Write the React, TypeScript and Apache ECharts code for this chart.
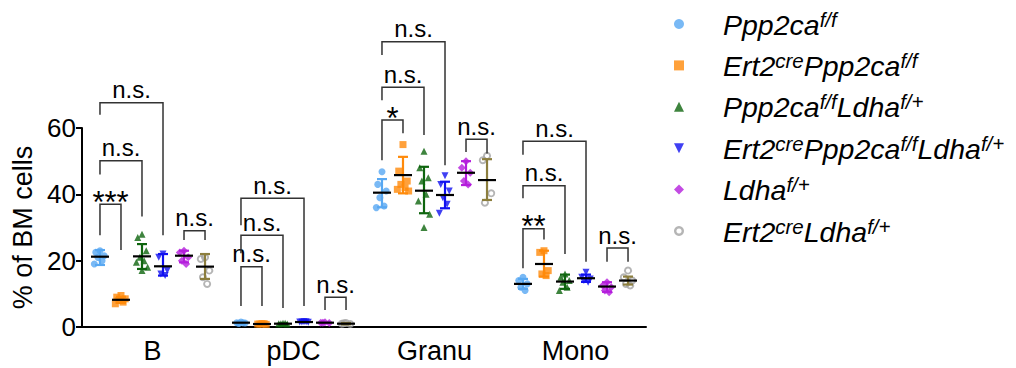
import React, { useEffect, useRef } from 'react';
import * as echarts from 'echarts';

// ---------- data ----------
const categories = ['B', 'pDC', 'Granu', 'Mono'];

// legend labels as [main, superscript] fragments
const groupLabels: string[][][] = [
  [['Ppp2ca', 'f/f']],
  [['Ert2', 'cre'], ['Ppp2ca', 'f/f']],
  [['Ppp2ca', 'f/f'], ['Ldha', 'f/+']],
  [['Ert2', 'cre'], ['Ppp2ca', 'f/f'], ['Ldha', 'f/+']],
  [['Ldha', 'f/+']],
  [['Ert2', 'cre'], ['Ldha', 'f/+']],
];

// individual points per group, one list per category (B, pDC, Granu, Mono)
const ptsPpp2ca = [[23, 22.5, 21.5, 21, 20, 19], [1.5, 1.3, 1.2, 1.1, 1.3], [46.8, 43, 41, 39, 36.5, 36], [15, 14, 13, 12, 11]];
const ptsErt2Ppp2ca = [[9.5, 9, 8.5, 8, 7.5, 7], [1.0, 0.9, 0.8, 0.9, 1.0], [55, 47, 44, 43, 42, 41.5, 41], [23, 22.5, 17, 16, 15.5]];
const ptsPpp2caLdha = [[28, 27, 23, 21, 20, 19.5, 18, 17], [1.1, 1.0, 0.9, 1.0, 1.1], [53, 48, 45, 44, 40, 38, 34, 30], [16, 15, 14, 13.5, 12, 11]];
const ptsErt2Ppp2caLdha = [[22, 21, 17, 16, 15.5], [1.6, 1.5, 1.4, 1.5, 1.6], [45.6, 43, 41, 39, 37, 34.3], [16.5, 15, 14.5, 14, 13.5]];
const ptsLdha = [[23, 22.5, 21, 20, 19], [1.4, 1.3, 1.2, 1.3], [50, 48, 46.5, 44, 43], [13.5, 12.5, 12, 11, 10.5]];
const ptsErt2Ldha = [[21, 20.5, 17, 15, 13], [1.2, 1.0, 0.9, 1.1], [51.6, 50.3, 40.3, 37.5], [17, 15, 14, 13, 12.5]];
const groupPoints = [ptsPpp2ca, ptsErt2Ppp2ca, ptsPpp2caLdha, ptsErt2Ppp2caLdha, ptsLdha, ptsErt2Ldha];

// mean, lower and upper error bar per group per category
const means = [
  [21.2, 1.3, 40.5, 13.0],
  [8.2, 0.9, 45.8, 19.0],
  [21.3, 1.0, 41.1, 13.7],
  [18.3, 1.5, 39.8, 14.7],
  [21.5, 1.3, 46.5, 12.2],
  [18.2, 1.0, 44.3, 14.0],
];
const lowers = [
  [18.7, 1.1, 36.1, 11.5],
  [7.3, 0.8, 40.3, 15.2],
  [17.5, 0.9, 34.3, 11.5],
  [15.5, 1.4, 35.8, 13.6],
  [19.5, 1.2, 42.8, 10.6],
  [14.5, 0.8, 38.3, 12.8],
];
const uppers = [
  [23.2, 1.5, 44.6, 14.5],
  [9.1, 1.0, 51.3, 23.0],
  [25.0, 1.1, 48.3, 15.8],
  [22.0, 1.6, 43.8, 15.8],
  [23.0, 1.4, 50.0, 13.5],
  [22.0, 1.2, 50.6, 15.2],
];

// significance brackets: [category, group1, group2, top, left leg end, right leg end]
const brackets = [
  [0, 0, 1, 37, 27.7, 23.2],
  [0, 0, 2, 50.1, 46, 33.3],
  [0, 0, 3, 67.6, 64, 27.7],
  [0, 4, 5, 29, 26.2, 26.2],
  [1, 0, 1, 18.2, 6.3, 6.3],
  [1, 0, 2, 27.7, 22.2, 5.7],
  [1, 0, 3, 38.8, 30.7, 6.3],
  [1, 4, 5, 9, 5.1, 5.1],
  [2, 0, 1, 62.4, 50.3, 58.4],
  [2, 0, 2, 72.3, 68.4, 57.9],
  [2, 0, 3, 86, 82, 48.8],
  [2, 4, 5, 56.6, 52.8, 52.3],
  [3, 0, 1, 29.6, 17.7, 26.4],
  [3, 0, 2, 42.6, 38.8, 22],
  [3, 0, 3, 56, 51.9, 19.7],
  [3, 4, 5, 23.8, 19.7, 19.7],
];
const bracketLabels = [
  '***', 'n.s.', 'n.s.', 'n.s.',
  'n.s.', 'n.s.', 'n.s.', 'n.s.',
  '*', 'n.s.', 'n.s.', 'n.s.',
  '**', 'n.s.', 'n.s.', 'n.s.',
];

const yTicks = [0, 20, 40, 60];

// ---------- styles ----------
const colors = ['#58A8F2', '#FF8A0A', '#0E650E', '#1010F0', '#B41EDC', '#A2A2A2'];
const barColors = ['#58A8F2', '#FF8A0A', '#0E650E', '#1010F0', '#B41EDC', '#8C7E3E'];
const RING = 'path://M5,0 A5,5 0 1,1 4.999,0 Z M5,2.4 A2.6,2.6 0 1,0 5.001,2.4 Z';
const symbols = [
  'circle',
  'rect',
  'triangle',
  'path://M0,0 L10,0 L5,10 Z',
  'diamond',
  RING,
];
const symbolSizes = [7, 7, 7, 7, 8, 8];
const FONT = '"Liberation Sans", Arial, Helvetica, sans-serif';
const GROUP_SPACING = 0.149;
const jitter = [0, -0.03, 0.03, -0.015, 0.015, -0.04, 0.04, 0];

const groupX = (c: number, g: number) => c + 0.5 + (g - 2.5) * GROUP_SPACING;

function seriesName(g: number) {
  return groupLabels[g].map((p) => p[0] + p[1]).join('');
}

export default function App() {
  const ref = useRef<HTMLDivElement>(null);

  useEffect(() => {
    if (!ref.current) return;
    const chart = echarts.init(ref.current, undefined, { renderer: 'svg' });

    const scatterSeries = groupPoints.map((perCat, g) => ({
      type: 'scatter',
      name: seriesName(g),
      xAxisIndex: 1,
      yAxisIndex: 0,
      symbol: symbols[g],
      symbolSize: symbolSizes[g],
      itemStyle: { color: colors[g] },
      z: 2,
      data: perCat.flatMap((vals, c) =>
        vals.map((v, i) => [groupX(c, g) + jitter[i % jitter.length], v])
      ),
    }));

    const errSeries = means.map((m, g) => ({
      type: 'custom',
      name: 'err' + g,
      xAxisIndex: 1,
      yAxisIndex: 0,
      z: 3,
      clip: false,
      data: m.map((mv, c) => [groupX(c, g), mv, lowers[g][c], uppers[g][c]]),
      renderItem: (params: any, api: any) => {
        const x = api.value(0);
        const pm = api.coord([x, api.value(1)]);
        const pl = api.coord([x, api.value(2)]);
        const pu = api.coord([x, api.value(3)]);
        const col = barColors[g];
        const lw = 2.2;
        const cap = 5;
        const half = 9;
        return {
          type: 'group',
          children: [
            { type: 'line', shape: { x1: pm[0], y1: pl[1], x2: pm[0], y2: pu[1] }, style: { stroke: col, lineWidth: lw } },
            { type: 'line', shape: { x1: pm[0] - cap, y1: pl[1], x2: pm[0] + cap, y2: pl[1] }, style: { stroke: col, lineWidth: lw } },
            { type: 'line', shape: { x1: pm[0] - cap, y1: pu[1], x2: pm[0] + cap, y2: pu[1] }, style: { stroke: col, lineWidth: lw } },
            { type: 'line', shape: { x1: pm[0] - half, y1: pm[1], x2: pm[0] + half, y2: pm[1] }, style: { stroke: '#000', lineWidth: 2.2 } },
          ],
        };
      },
    }));

    const bracketSeries = {
      type: 'custom',
      name: 'brackets',
      xAxisIndex: 1,
      yAxisIndex: 0,
      z: 4,
      clip: false,
      data: brackets,
      renderItem: (params: any, api: any) => {
        const c = api.value(0);
        const g1 = api.value(1);
        const g2 = api.value(2);
        const x1 = groupX(c, g1);
        const x2 = groupX(c, g2);
        const pTL = api.coord([x1, api.value(3)]);
        const pTR = api.coord([x2, api.value(3)]);
        const pL = api.coord([x1, api.value(4)]);
        const pR = api.coord([x2, api.value(5)]);
        const label = bracketLabels[params.dataIndex];
        const star = label.indexOf('*') >= 0;
        return {
          type: 'group',
          children: [
            {
              type: 'polyline',
              shape: { points: [pL, pTL, pTR, pR] },
              style: { stroke: '#333', lineWidth: 1.5, fill: 'none' },
            },
            {
              type: 'text',
              x: (pTL[0] + pTR[0]) / 2,
              y: star ? pTL[1] - 2 : pTL[1] - 1,
              style: {
                text: label,
                fontSize: star ? 31 : 24,
                fontFamily: FONT,
                fill: '#000',
                align: 'center',
                verticalAlign: star ? 'middle' : 'bottom',
              },
            },
          ],
        };
      },
    };

    const rich: any = {
      sp: { width: 34 },
      m: { fontSize: 28.5, fontStyle: 'italic', fontFamily: FONT, color: '#000', lineHeight: 30, verticalAlign: 'bottom' },
      s: { fontSize: 20.5, fontStyle: 'italic', fontFamily: FONT, color: '#000', lineHeight: 19, verticalAlign: 'top' },
    };

    const option: any = {
      animation: false,
      grid: { left: 82, right: 370, top: 128, bottom: 41, containLabel: false },
      legend: {
        orient: 'vertical',
        left: 669,
        top: 4,
        itemWidth: 10,
        itemHeight: 10,
        itemGap: 11.4,
        data: groupLabels.map((_, g) => seriesName(g)),
        formatter: (name: string) => {
          const g = groupLabels.findIndex((_, i) => seriesName(i) === name);
          return '{sp|}' + groupLabels[g].map((p) => `{m|${p[0]}}{s|${p[1]}}`).join('');
        },
        textStyle: { rich },
      },
      xAxis: [
        {
          type: 'category',
          data: categories,
          boundaryGap: true,
          axisLine: { lineStyle: { color: '#000', width: 2 } },
          axisTick: { alignWithLabel: true, length: 6, lineStyle: { color: '#000', width: 2 } },
          axisLabel: { fontSize: 27, color: '#000', fontFamily: FONT, margin: 10 },
        },
        { type: 'value', min: 0, max: 4, show: false },
      ],
      yAxis: {
        type: 'value',
        min: 0,
        max: 60,
        interval: 20,
        name: '% of BM cells',
        nameLocation: 'middle',
        nameRotate: 90,
        nameGap: 46,
        nameTextStyle: { fontSize: 27, color: '#000', fontFamily: FONT },
        axisLine: { show: true, lineStyle: { color: '#000', width: 2 } },
        axisTick: { show: true, length: 6, lineStyle: { color: '#000', width: 2 } },
        axisLabel: {
          fontSize: 26,
          color: '#000',
          fontFamily: FONT,
          margin: 6,
          formatter: (v: number) => (yTicks.includes(v) ? String(v) : ''),
        },
        splitLine: { show: false },
      },
      series: [...scatterSeries, ...errSeries, bracketSeries],
    };

    chart.setOption(option);
    return () => chart.dispose();
  }, []);

  return (
    <div
      ref={ref}
      style={{ position: 'absolute', left: 0, top: 0, width: 1016, height: 368, background: '#fff' }}
    />
  );
}
